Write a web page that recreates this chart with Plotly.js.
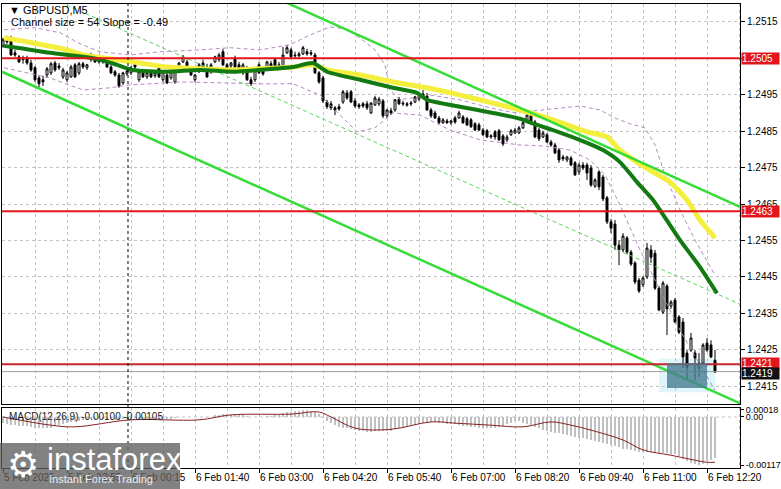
<!DOCTYPE html>
<html><head><meta charset="utf-8">
<script src="https://cdn.plot.ly/plotly-3.0.1.min.js"></script>
<style>html,body{margin:0;padding:0;background:#fff;}#chart{width:781px;height:489px;}</style>
</head><body><div id="chart"></div>
<script>
// ---------- DATA ----------
const tickIdx = [0,16,32,48,64,80,96,112,128,144,160,176];
const tickLabels = ["5 Feb 2025","5 Feb 22:55","6 Feb 00:15","6 Feb 01:40","6 Feb 03:00","6 Feb 04:20","6 Feb 05:40","6 Feb 07:00","6 Feb 08:20","6 Feb 09:40","6 Feb 11:00","6 Feb 12:20"];
const priceTicks = [1.2415,1.2425,1.2435,1.2445,1.2455,1.2465,1.2475,1.2485,1.2495,1.2505,1.2515];
const priceTickText = ["1.2415","1.2425","1.2435","1.2445","1.2455","1.2465","1.2475","1.2485","1.2495","","1.2515"];

const openP = [1.25084,1.25101,1.25106,1.25065,1.25054,1.25046,1.25051,1.25037,1.25024,1.24996,
1.24991,1.25004,1.25010,1.25037,1.25029,1.24999,1.24991,1.24999,1.25032,1.25010,
1.25035,1.25024,1.25046,1.25051,1.25048,1.25040,1.25040,1.25026,1.25013,1.25004,
1.24982,1.25007,1.25010,1.25037,1.24991,1.25013,1.24999,1.25010,1.25002,1.25024,
1.24991,1.25004,1.24996,1.24985,1.25026,1.25040,1.25040,1.25018,1.24991,1.25013,
1.25037,1.25026,1.25013,1.25040,1.25046,1.25068,1.25032,1.25029,1.25051,1.25032,
1.25010,1.25024,1.24991,1.24991,1.25032,1.25018,1.25024,1.25035,1.25046,1.25032,
1.25026,1.25065,1.25073,1.25059,1.25057,1.25062,1.25068,1.25065,1.25059,1.25010,
1.24996,1.24930,1.24925,1.24914,1.24917,1.24930,1.24955,1.24958,1.24933,1.24922,
1.24925,1.24925,1.24900,1.24922,1.24925,1.24933,1.24892,1.24906,1.24908,1.24938,
1.24927,1.24925,1.24925,1.24930,1.24938,1.24944,1.24947,1.24908,1.24900,1.24886,
1.24873,1.24878,1.24873,1.24886,1.24886,1.24889,1.24884,1.24881,1.24870,1.24867,
1.24853,1.24851,1.24834,1.24848,1.24851,1.24837,1.24826,1.24840,1.24845,1.24845,
1.24859,1.24881,1.24894,1.24875,1.24853,1.24834,1.24840,1.24820,1.24812,1.24798,
1.24779,1.24771,1.24776,1.24763,1.24738,1.24757,1.24757,1.24749,1.24699,1.24738,
1.24724,1.24667,1.24601,1.24595,1.24537,1.24524,1.24557,1.24518,1.24488,1.24441,
1.24428,1.24450,1.24524,1.24515,1.24419,1.24353,1.24425,1.24370,1.24386,1.24340,
1.24326,1.24241,1.24249,1.24241,1.24200,1.24213,1.24268,1.24263,1.24221];
const highP = [1.25106,1.25112,1.25112,1.25073,1.25059,1.25057,1.25057,1.25046,1.25029,1.25002,
1.25002,1.25026,1.25040,1.25043,1.25037,1.25024,1.25015,1.25032,1.25037,1.25040,
1.25040,1.25035,1.25065,1.25057,1.25054,1.25054,1.25046,1.25032,1.25018,1.25010,
1.25013,1.25018,1.25029,1.25043,1.25018,1.25018,1.25013,1.25015,1.25013,1.25029,
1.25018,1.25010,1.25018,1.25029,1.25040,1.25059,1.25046,1.25024,1.25007,1.25037,
1.25046,1.25035,1.25037,1.25057,1.25065,1.25076,1.25037,1.25040,1.25057,1.25040,
1.25037,1.25029,1.24999,1.25026,1.25040,1.25026,1.25043,1.25043,1.25051,1.25040,
1.25081,1.25087,1.25079,1.25068,1.25068,1.25084,1.25076,1.25073,1.25065,1.25015,
1.25002,1.24936,1.24933,1.24919,1.24925,1.24963,1.24963,1.24963,1.24941,1.24927,
1.24930,1.24933,1.24930,1.24947,1.24944,1.24938,1.24911,1.24914,1.24938,1.24944,
1.24933,1.24930,1.24933,1.24947,1.24952,1.24963,1.24955,1.24914,1.24906,1.24892,
1.24886,1.24884,1.24881,1.24892,1.24906,1.24894,1.24889,1.24886,1.24875,1.24873,
1.24859,1.24856,1.24842,1.24853,1.24856,1.24842,1.24840,1.24856,1.24859,1.24864,
1.24886,1.24903,1.24903,1.24881,1.24859,1.24851,1.24845,1.24826,1.24818,1.24804,
1.24785,1.24782,1.24782,1.24768,1.24763,1.24765,1.24763,1.24757,1.24721,1.24743,
1.24730,1.24672,1.24609,1.24606,1.24551,1.24570,1.24562,1.24524,1.24493,1.24447,
1.24452,1.24543,1.24537,1.24524,1.24425,1.24439,1.24430,1.24386,1.24392,1.24345,
1.24337,1.24249,1.24296,1.24249,1.24241,1.24268,1.24282,1.24276,1.24249];
const lowP = [1.25079,1.25090,1.25057,1.25054,1.25037,1.25035,1.25032,1.25013,1.24985,1.24971,
1.24974,1.24996,1.25004,1.25013,1.25018,1.24993,1.24985,1.24996,1.24996,1.25004,
1.25021,1.25018,1.25040,1.25037,1.25035,1.25035,1.25024,1.25007,1.24999,1.24969,
1.24977,1.25002,1.25004,1.25021,1.24985,1.24996,1.24993,1.24996,1.24996,1.24996,
1.24985,1.24980,1.24991,1.24980,1.25024,1.25037,1.25015,1.25002,1.24985,1.25010,
1.25015,1.24996,1.25007,1.25037,1.25040,1.25029,1.25007,1.25021,1.25024,1.25015,
1.25004,1.24988,1.24974,1.24985,1.25007,1.25002,1.25018,1.25021,1.25024,1.25021,
1.25021,1.25062,1.25051,1.25051,1.25051,1.25059,1.25057,1.25057,1.25007,1.24980,
1.24927,1.24911,1.24908,1.24894,1.24906,1.24925,1.24936,1.24927,1.24914,1.24911,
1.24914,1.24908,1.24897,1.24919,1.24919,1.24886,1.24886,1.24894,1.24903,1.24922,
1.24919,1.24917,1.24919,1.24927,1.24933,1.24938,1.24906,1.24886,1.24884,1.24870,
1.24870,1.24870,1.24867,1.24870,1.24884,1.24870,1.24864,1.24859,1.24851,1.24851,
1.24837,1.24831,1.24829,1.24826,1.24823,1.24809,1.24820,1.24837,1.24842,1.24842,
1.24856,1.24878,1.24873,1.24831,1.24823,1.24831,1.24818,1.24807,1.24787,1.24763,
1.24768,1.24765,1.24754,1.24727,1.24730,1.24743,1.24716,1.24697,1.24694,1.24688,
1.24658,1.24595,1.24570,1.24524,1.24482,1.24518,1.24512,1.24480,1.24430,1.24406,
1.24422,1.24444,1.24488,1.24414,1.24356,1.24348,1.24290,1.24362,1.24323,1.24293,
1.24200,1.24166,1.24244,1.24166,1.24175,1.24208,1.24244,1.24227,1.24186];
const closeP = [1.25101,1.25095,1.25059,1.25059,1.25040,1.25051,1.25037,1.25018,1.24991,1.24980,
1.24985,1.25021,1.25035,1.25018,1.25024,1.25018,1.25010,1.25026,1.24999,1.25035,
1.25026,1.25032,1.25059,1.25040,1.25040,1.25048,1.25026,1.25010,1.25004,1.24974,
1.25010,1.25015,1.25024,1.25026,1.25013,1.24999,1.25010,1.24999,1.25010,1.24999,
1.25013,1.24982,1.25013,1.25024,1.25037,1.25054,1.25018,1.25004,1.25004,1.25032,
1.25018,1.24999,1.25032,1.25054,1.25059,1.25032,1.25013,1.25037,1.25026,1.25018,
1.25032,1.24991,1.24980,1.25024,1.25010,1.25007,1.25040,1.25029,1.25026,1.25029,
1.25059,1.25079,1.25054,1.25057,1.25062,1.25079,1.25062,1.25062,1.25010,1.24985,
1.24933,1.24917,1.24914,1.24908,1.24911,1.24958,1.24941,1.24930,1.24919,1.24917,
1.24919,1.24914,1.24927,1.24941,1.24938,1.24892,1.24908,1.24900,1.24936,1.24925,
1.24925,1.24922,1.24927,1.24944,1.24947,1.24952,1.24908,1.24892,1.24886,1.24873,
1.24881,1.24873,1.24878,1.24875,1.24900,1.24873,1.24867,1.24862,1.24853,1.24853,
1.24840,1.24834,1.24837,1.24834,1.24826,1.24815,1.24834,1.24851,1.24853,1.24859,
1.24873,1.24894,1.24878,1.24834,1.24829,1.24845,1.24820,1.24812,1.24790,1.24771,
1.24774,1.24779,1.24757,1.24730,1.24757,1.24749,1.24735,1.24702,1.24716,1.24697,
1.24664,1.24601,1.24584,1.24537,1.24524,1.24562,1.24518,1.24485,1.24436,1.24411,
1.24447,1.24529,1.24504,1.24419,1.24359,1.24433,1.24362,1.24381,1.24326,1.24298,
1.24230,1.24202,1.24282,1.24227,1.24213,1.24263,1.24249,1.24230,1.24189];

// moving averages (read at sample bars)
const maSlowX = [0.25,7.5,16,20,32.5,41,49.25,57.5,64.25,72.5,77.5,81,89.25,97.5,106,114.25,122.5,129.25,137.5,146,151,154.25,158.5,162.5,166.75,171,174.25,178];
const maSlowY = [1.25106,1.25092,1.25073,1.25059,1.25040,1.25026,1.25021,1.25018,1.25021,1.25026,1.25032,1.25018,1.25004,1.24985,1.24969,1.24949,1.24927,1.24908,1.24881,1.24848,1.24834,1.24798,1.24765,1.24738,1.24710,1.24661,1.24606,1.24557];
const maFastX = [0.25,3.5,11.75,20,24.25,28.5,32.5,41,49.25,57.5,64.25,72.5,77.5,81,89.25,97.5,103.5,106,114.25,122.5,129.25,133.5,137.5,146,150,154.25,158.5,162.5,166.75,169.25,174.25,178.5];
const maFastY = [1.25084,1.25079,1.25065,1.25054,1.25046,1.25032,1.25018,1.25013,1.25018,1.25013,1.25018,1.25026,1.25037,1.25013,1.24991,1.24969,1.24955,1.24936,1.24917,1.24900,1.24884,1.24867,1.24853,1.24818,1.24798,1.24765,1.24710,1.24661,1.24592,1.24551,1.24477,1.24405];

// envelope bands (dashed purple)
const bandUpX = [0.25,8,14.25,19.25,24.25,31.75,39.25,49.25,56.75,64.25,71.75,76.75,81.75,85.5,89.25,93,95.5,96.75,99.25,106.75,114.25,121.75,128,134.25,139.25,144.25,149.25,153,156.75,160.5,163,165.5,169.25,173,178];
const bandUpY = [1.25128,1.25134,1.25120,1.25090,1.25068,1.25059,1.25068,1.25073,1.25079,1.25073,1.25087,1.25114,1.25136,1.25131,1.25106,1.25073,1.25032,1.24963,1.24936,1.24949,1.24936,1.24914,1.24900,1.24908,1.24914,1.24919,1.24908,1.24886,1.24870,1.24859,1.24812,1.24730,1.24634,1.24551,1.24455];
const bandLoX = [0.25,11.75,20,26.75,31.75,45,56.75,64.25,72.5,79.25,84.25,88.5,93,97.5,104.25,111.75,119.25,124.25,129.25,135.5,141.75,146.75,150.5,154.25,159.25,164.25,169.25,174.25,178];
const bandLoY = [1.25024,1.24996,1.24963,1.24969,1.24977,1.24985,1.24982,1.24980,1.24980,1.24949,1.24894,1.24848,1.24859,1.24900,1.24894,1.24853,1.24826,1.24818,1.24812,1.24809,1.24798,1.24771,1.24730,1.24647,1.24524,1.24414,1.24304,1.24208,1.24139];

// regression channel
const chanUpX = [71,184.25], chanUpY = [1.25202,1.24642];
const chanLoX = [-0.25,184.25], chanLoY = [1.25013,1.24103];
const chanMidX = [14.25,184.25], chanMidY = [1.25204,1.24375];

// levels
const redLevels = [1.2505,1.2463,1.2421];
const redLabels = ["1.2505","1.2463","1.2421"];
const lastPrice = 1.2419, lastLabel = "1.2419";
const zoneX = [166,176], zoneY = [1.24145,1.24213];
const separatorIdx = 31.25;

// MACD
const macdHist = [-0.00015,-0.00017,-0.00019,-0.00020,-0.00021,-0.00022,
-0.00023,-0.00024,-0.00026,-0.00027,-0.00028,-0.00027,-0.00026,
-0.00022,-0.00019,-0.00016,-0.00014,-0.00012,-0.00010,-0.00009,-0.00008,
-0.00007,-0.00006,-0.00005,-0.00005,-0.00005,-0.00006,-0.00006,-0.00007,-0.00008,-0.00006,-0.00005,
-0.00004,-0.00003,-0.00004,-0.00004,-0.00005,-0.00005,-0.00004,-0.00004,-0.00005,-0.00005,-0.00004,-0.00003,-0.00001,0.00001,
0.00001,0.00000,-0.00001,0.00000,0.00001,0.00000,0.00001,
0.00004,0.00006,0.00008,0.00007,0.00006,0.00007,0.00006,0.00005,
0.00002,-0.00001,0.00000,0.00001,0.00000,0.00002,0.00003,0.00004,0.00005,
0.00009,0.00012,0.00013,0.00014,0.00015,0.00016,0.00016,0.00015,0.00012,0.00007,
-0.00002,-0.00009,-0.00015,-0.00020,-0.00024,
-0.00026,-0.00028,-0.00030,-0.00032,-0.00034,-0.00035,-0.00036,-0.00036,-0.00035,-0.00034,-0.00035,-0.00034,-0.00033,
-0.00030,-0.00028,-0.00026,-0.00024,-0.00022,-0.00020,-0.00017,
-0.00015,-0.00014,-0.00013,-0.00013,-0.00014,-0.00015,-0.00016,-0.00017,
-0.00018,-0.00020,-0.00021,-0.00022,-0.00024,-0.00025,-0.00026,-0.00027,-0.00028,-0.00028,-0.00027,-0.00025,-0.00022,
-0.00018,-0.00014,-0.00010,-0.00011,-0.00014,-0.00018,
-0.00022,-0.00025,-0.00028,-0.00031,-0.00034,-0.00036,-0.00038,-0.00040,-0.00042,-0.00044,-0.00046,-0.00048,-0.00050,-0.00052,-0.00054,-0.00056,-0.00058,
-0.00060,-0.00063,-0.00066,-0.00068,-0.00071,-0.00074,-0.00077,-0.00079,-0.00081,-0.00083,-0.00084,
-0.00085,-0.00086,-0.00086,-0.00087,-0.00087,-0.00088,-0.00088,-0.00089,-0.00091,
-0.00096,-0.00102,-0.00108,-0.00112,-0.00115,-0.00117,-0.00114,
-0.00108,-0.00104,-0.00100];
const macdSigX = [0,12,18,32,49,57,72,79,82,88,97,107,113,122,130,137,142,147,155,160,167,176,178];
const macdSigY = [0.00000,-0.00020,-0.00024,-0.00007,-0.00007,0.00005,0.00007,0.00012,0.00000,-0.00027,-0.00030,-0.00012,-0.00015,-0.00020,-0.00024,-0.00012,-0.00020,-0.00032,-0.00056,-0.00080,-0.00093,-0.00110,-0.00110];
const macdTicks = [0.00018,0,-0.00117], macdTickText = ["0.00018","0.00","-0.00117"];

// ---------- CHART ----------
const W = 781, H = 489;
const px = v => v / W, py = v => 1 - v / H;
const idx = openP.map((_, i) => i);
const XR = [-0.25, 184.25];
const FONT = "Liberation Sans, Arial, sans-serif";
const gridC = "#c4c4c4";

const traces = [
  {x: bandUpX, y: bandUpY, type: "scatter", mode: "lines", line: {color: "#b58ac0", width: 1, dash: "4px,3px"}, xaxis: "x", yaxis: "y"},
  {x: bandLoX, y: bandLoY, type: "scatter", mode: "lines", line: {color: "#b58ac0", width: 1, dash: "4px,3px"}, xaxis: "x", yaxis: "y"},
  {x: chanMidX, y: chanMidY, type: "scatter", mode: "lines", line: {color: "#5fd05f", width: 1, dash: "4px,3px"}, xaxis: "x", yaxis: "y"},
  {x: maSlowX, y: maSlowY, type: "scatter", mode: "lines", line: {color: "#f4ee3c", width: 5, shape: "spline", smoothing: 0.6}, xaxis: "x", yaxis: "y"},
  {x: maFastX, y: maFastY, type: "scatter", mode: "lines", line: {color: "#137a13", width: 4, shape: "spline", smoothing: 0.6}, xaxis: "x", yaxis: "y"},
  {x: chanUpX, y: chanUpY, type: "scatter", mode: "lines", line: {color: "#36dd36", width: 2.5}, xaxis: "x", yaxis: "y"},
  {x: chanLoX, y: chanLoY, type: "scatter", mode: "lines", line: {color: "#36dd36", width: 2.5}, xaxis: "x", yaxis: "y"}
];
redLevels.forEach((lv, k) => {
  traces.push({x: XR, y: [lv, lv], type: "scatter", mode: "lines", line: {color: k === 2 ? "#c8262a" : "#e4161c", width: 2}, xaxis: "x", yaxis: "y"});
});
traces.push({x: XR, y: [lastPrice, lastPrice], type: "scatter", mode: "lines", line: {color: "#a0a0a0", width: 1}, xaxis: "x", yaxis: "y"});
traces.push({
  type: "candlestick", x: idx, open: openP, high: highP, low: lowP, close: closeP,
  increasing: {line: {color: "#000", width: 1}, fillcolor: "#ffffff"},
  decreasing: {line: {color: "#000", width: 1}, fillcolor: "#000000"},
  whiskerwidth: 0, xaxis: "x", yaxis: "y"
});
traces.push({x: idx, y: macdHist, type: "bar", marker: {color: "#c0c0c0", line: {width: 0}}, width: 0.5, xaxis: "x2", yaxis: "y2"});
traces.push({x: macdSigX, y: macdSigY, type: "scatter", mode: "lines", line: {color: "#8b1f1f", width: 1, shape: "spline"}, xaxis: "x2", yaxis: "y2"});

const axFont = {family: FONT, size: 10, color: "#000"};
const xCommon = {
  range: XR, tickmode: "array", tickvals: tickIdx, ticktext: tickLabels,
  showgrid: true, gridcolor: gridC, griddash: "3px,3px", gridwidth: 1,
  minor: {tickmode: "linear", tick0: 0, dtick: 8, showgrid: true, gridcolor: gridC, griddash: "3px,3px", gridwidth: 1},
  showline: true, mirror: true, linecolor: "#000", linewidth: 1, zeroline: false,
  domain: [px(2), px(740)], fixedrange: true
};
const layout = {
  width: W, height: H, margin: {l: 0, r: 0, t: 0, b: 0},
  paper_bgcolor: "#fff", plot_bgcolor: "#fff", showlegend: false,
  font: {family: FONT, size: 10, color: "#000"},
  bargap: 0,
  xaxis: Object.assign({}, xCommon, {anchor: "y", showticklabels: false, ticks: "", rangeslider: {visible: false}}),
  xaxis2: Object.assign({}, xCommon, {anchor: "y2", showticklabels: true, ticks: "outside", ticklen: 4, tickcolor: "#000",
    ticklabelposition: "outside right", tickfont: axFont}),
  yaxis: {
    domain: [py(404), py(4)], range: [1.24101, 1.25199], side: "right", anchor: "x",
    tickmode: "array", tickvals: priceTicks, ticktext: priceTickText,
    ticks: "outside", ticklen: 4, tickcolor: "#000", tickfont: axFont,
    showgrid: true, gridcolor: gridC, griddash: "3px,3px", gridwidth: 1,
    showline: true, mirror: true, linecolor: "#000", linewidth: 1, zeroline: false, fixedrange: true
  },
  yaxis2: {
    domain: [py(468), py(407.5)], range: [-0.00124, 0.00023], side: "right", anchor: "x2",
    tickmode: "array", tickvals: macdTicks, ticktext: macdTickText,
    ticks: "outside", ticklen: 3, tickcolor: "#000", tickfont: {family: FONT, size: 9, color: "#000"},
    showgrid: false, showline: true, mirror: true, linecolor: "#000", linewidth: 1, zeroline: false, fixedrange: true
  },
  shapes: [
    {type: "line", xref: "x2", yref: "y2", x0: XR[0], x1: XR[1], y0: 0, y1: 0, line: {color: gridC, width: 1, dash: "3px,3px"}, layer: "below"},
    {type: "line", xref: "x", yref: "paper", x0: separatorIdx, x1: separatorIdx, y0: py(468), y1: py(4), line: {color: "#000", width: 1, dash: "dot"}, layer: "above"},
    {type: "rect", xref: "x", yref: "y", x0: zoneX[0] - 2, x1: zoneX[1] + 2, y0: zoneY[0] - 0.00012, y1: zoneY[1] + 0.00012, fillcolor: "rgba(200,240,246,0.6)", line: {width: 0}, layer: "below"},
    {type: "rect", xref: "x", yref: "y", x0: zoneX[0], x1: zoneX[1], y0: zoneY[0], y1: zoneY[1], fillcolor: "rgba(70,125,145,0.8)", line: {width: 0}, layer: "above"},
    {type: "rect", xref: "paper", yref: "paper", x0: 0, x1: px(180), y0: 0, y1: py(443), fillcolor: "rgba(95,95,95,0.78)", line: {width: 0}, layer: "above"}
  ],
  annotations: []
};
const ann = layout.annotations;
ann.push({xref: "paper", yref: "paper", x: px(7), y: py(10), xanchor: "left", yanchor: "middle", showarrow: false, text: "▼ GBPUSD,M5", font: {family: FONT, size: 11, color: "#000"}});
ann.push({xref: "paper", yref: "paper", x: px(9), y: py(22), xanchor: "left", yanchor: "middle", showarrow: false, text: "Channel size = 54 Slope = -0.49", font: {family: FONT, size: 11, color: "#000"}});
ann.push({xref: "paper", yref: "paper", x: px(7), y: py(416), xanchor: "left", yanchor: "middle", showarrow: false, text: "MACD(12,26,9) -0.00100 -0.00105", font: {family: FONT, size: 10, color: "#222"}});
redLabels.forEach((t, k) => {
  ann.push({xref: "paper", yref: "y", x: px(741), y: redLevels[k], xanchor: "left", yanchor: "middle", showarrow: false, text: t,
    bgcolor: "#e4161c", font: {family: FONT, size: 10, color: "#fff"}, borderpad: 0, width: 37, height: 11, align: "left",
    yshift: k === 2 ? 1 : 0});
});
ann.push({xref: "paper", yref: "y", x: px(741), y: lastPrice, xanchor: "left", yanchor: "middle", showarrow: false, text: lastLabel,
  bgcolor: "#111", font: {family: FONT, size: 10, color: "#fff"}, borderpad: 0, width: 37, height: 11, align: "left", yshift: -2});
ann.push({xref: "paper", yref: "paper", x: px(5), y: py(464), xanchor: "left", yanchor: "middle", showarrow: false, text: "⚙", font: {family: "DejaVu Sans", size: 36, color: "#fff"}});
ann.push({xref: "paper", yref: "paper", x: px(45), y: py(459), xanchor: "left", yanchor: "middle", showarrow: false, text: "instaforex", font: {family: FONT, size: 31, color: "#fff"}});
ann.push({xref: "paper", yref: "paper", x: px(47), y: py(479), xanchor: "left", yanchor: "middle", showarrow: false, text: "Instant Forex Trading", font: {family: FONT, size: 11, color: "#eee"}});

Plotly.newPlot("chart", traces, layout, {displayModeBar: false, staticPlot: true});
</script>
</body></html>
